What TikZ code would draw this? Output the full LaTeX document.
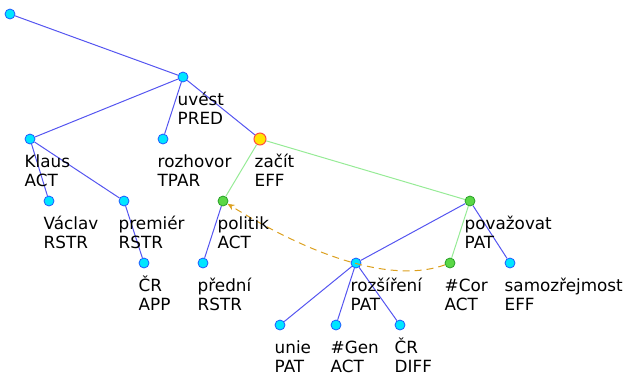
\documentclass[tikz,border=0pt]{standalone}
\usepackage{fontspec}
\setmainfont{DejaVu Sans}
\usetikzlibrary{arrows.meta}
\definecolor{edgeblue}{RGB}{85,85,240}
\definecolor{edgegreen}{RGB}{150,235,150}
\definecolor{nodecyan}{RGB}{0,230,255}
\definecolor{nodecyanb}{RGB}{30,90,255}
\definecolor{nodegreen}{RGB}{90,215,70}
\definecolor{nodegreenb}{RGB}{40,160,40}
\definecolor{nodeyellow}{RGB}{255,230,0}
\definecolor{nodered}{RGB}{255,80,60}
\definecolor{corefarrow}{RGB}{220,160,30}
\tikzset{
  cnode/.style={circle, draw=nodecyanb, fill=nodecyan, line width=0.8pt, minimum size=10pt, inner sep=0pt},
  gnode/.style={circle, draw=nodegreenb, fill=nodegreen, line width=0.8pt, minimum size=10pt, inner sep=0pt},
  ynode/.style={circle, draw=nodered, fill=nodeyellow, line width=1pt, minimum size=12pt, inner sep=0pt},
  bedge/.style={draw=edgeblue, line width=1pt},
  gedge/.style={draw=edgegreen, line width=1pt},
  coref/.style={draw=corefarrow, line width=1pt, dash pattern=on 7pt off 5pt, -{Stealth[length=7pt,width=6pt]}},
  lab/.style={anchor=base west, inner sep=0pt, font=\fontsize{16.8}{19}\selectfont, text=black},
}
\newcommand{\twolines}[2]{\vtop{\hbox{#1}\hbox{#2}}}
\begin{document}
\begin{tikzpicture}[x=1pt,y=-1pt]
\useasboundingbox (0,0) rectangle (628,376);
% nodes
\node[cnode] (root) at (10,14) {};
\node[cnode] (uvest) at (183,77) {};
\node[cnode] (klaus) at (30,139) {};
\node[cnode] (rozhovor) at (163,139) {};
\node[ynode] (zacit) at (260,139) {};
\node[cnode] (vaclav) at (49,201) {};
\node[cnode] (premier) at (124,201) {};
\node[gnode] (politik) at (223,201) {};
\node[gnode] (povazovat) at (470,201) {};
\node[cnode] (crapp) at (144,263) {};
\node[cnode] (predni) at (203,263) {};
\node[cnode] (rozsireni) at (356,263) {};
\node[gnode] (cor) at (450,263) {};
\node[cnode] (samo) at (510,263) {};
\node[cnode] (unie) at (280,325) {};
\node[cnode] (gen) at (336,325) {};
\node[cnode] (crdiff) at (400,325) {};
% edges
\path[bedge] (root) -- (uvest);
\path[bedge] (uvest) -- (klaus);
\path[bedge] (uvest) -- (rozhovor);
\path[bedge] (uvest) -- (zacit);
\path[bedge] (klaus) -- (vaclav);
\path[bedge] (klaus) -- (premier);
\path[bedge] (premier) -- (crapp);
\path[gedge] (zacit) -- (politik);
\path[gedge] (zacit) -- (povazovat);
\path[bedge] (politik) -- (predni);
\path[bedge] (povazovat) -- (rozsireni);
\path[gedge] (povazovat) -- (cor);
\path[bedge] (povazovat) -- (samo);
\path[bedge] (rozsireni) -- (unie);
\path[bedge] (rozsireni) -- (gen);
\path[bedge] (rozsireni) -- (crdiff);
% coreference arrow
\path[coref] (cor) .. controls (396.7,282.3) and (321,261.7) .. (politik);
% labels
\node[lab] (uvestL) at ([shift={(-5.5,28)}]uvest.center) {\twolines{uvést}{PRED}};
\node[lab] (klausL) at ([shift={(-5.5,28)}]klaus.center) {\twolines{Klaus}{ACT}};
\node[lab] (rozhovorL) at ([shift={(-5.5,28)}]rozhovor.center) {\twolines{rozhovor}{TPAR}};
\node[lab] (zacitL) at ([shift={(-5.5,28)}]zacit.center) {\twolines{začít}{EFF}};
\node[lab] (vaclavL) at ([shift={(-5.5,28)}]vaclav.center) {\twolines{Václav}{RSTR}};
\node[lab] (premierL) at ([shift={(-5.5,28)}]premier.center) {\twolines{premiér}{RSTR}};
\node[lab] (politikL) at ([shift={(-5.5,28)}]politik.center) {\twolines{politik}{ACT}};
\node[lab] (povazovatL) at ([shift={(-5.5,28)}]povazovat.center) {\twolines{považovat}{PAT}};
\node[lab] (crappL) at ([shift={(-5.5,28)}]crapp.center) {\twolines{ČR}{APP}};
\node[lab] (predniL) at ([shift={(-5.5,28)}]predni.center) {\twolines{přední}{RSTR}};
\node[lab] (rozsireniL) at ([shift={(-5.5,28)}]rozsireni.center) {\twolines{rozšíření}{PAT}};
\node[lab] (corL) at ([shift={(-5.5,28)}]cor.center) {\twolines{\#Cor}{ACT}};
\node[lab] (samoL) at ([shift={(-5.5,28)}]samo.center) {\twolines{samozřejmost}{EFF}};
\node[lab] (unieL) at ([shift={(-5.5,28)}]unie.center) {\twolines{unie}{PAT}};
\node[lab] (genL) at ([shift={(-5.5,28)}]gen.center) {\twolines{\#Gen}{ACT}};
\node[lab] (crdiffL) at ([shift={(-5.5,28)}]crdiff.center) {\twolines{ČR}{DIFF}};
\end{tikzpicture}
\end{document}
